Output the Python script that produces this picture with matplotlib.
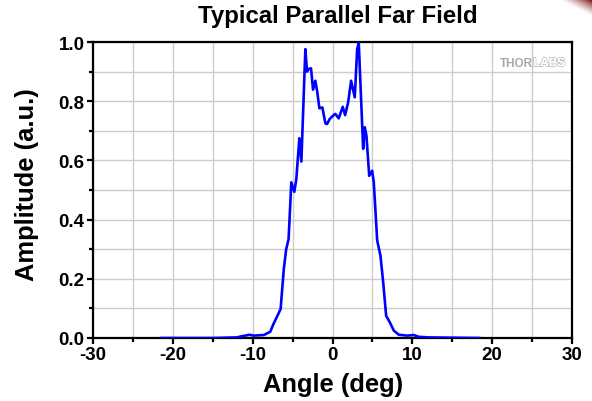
import matplotlib
matplotlib.use("Agg")
import matplotlib.pyplot as plt
import matplotlib.patheffects as pe
import numpy as np

plt.rcParams['font.family'] = ['Liberation Sans', 'DejaVu Sans']

angle = [-21.5, -15.0, -12.0, -11.5, -10.4, -9.9, -8.6, -7.8, -7.4, -6.9, -6.5,
         -6.1, -5.8, -5.5, -5.16, -4.78, -4.53, -4.44, -4.15, -3.9, -3.4, -3.19,
         -2.99, -2.69, -2.44, -2.15, -1.93, -1.64, -1.27, -0.89, -0.68, -0.35,
         0.15, 0.36, 0.78, 1.28, 1.58, 1.96, 2.33, 2.79, 3.09, 3.29, 3.84, 4.04,
         4.25, 4.6, 4.97, 5.17, 5.6, 6.01, 6.35, 6.72, 7.14, 7.68, 8.31, 9.36,
         10.2, 10.8, 12.0, 18.4]
amplitude = [0.0, 0.0, 0.002, 0.005, 0.011, 0.008, 0.010, 0.021, 0.047, 0.075, 0.098,
             0.233, 0.300, 0.334, 0.526, 0.494, 0.537, 0.571, 0.675, 0.596, 0.976, 0.900,
             0.909, 0.911, 0.839, 0.869, 0.835, 0.776, 0.779, 0.725, 0.723, 0.740,
             0.753, 0.757, 0.742, 0.781, 0.753, 0.796, 0.869, 0.813, 0.976, 0.997, 0.639, 0.712,
             0.684, 0.548, 0.565, 0.526, 0.329, 0.278, 0.188, 0.075, 0.055, 0.025, 0.011, 0.008,
             0.010, 0.004, 0.002, 0.0]

x_ticks = [-30, -20, -10, 0, 10, 20, 30]
y_ticks = [0.0, 0.2, 0.4, 0.6, 0.8, 1.0]

fig = plt.figure(figsize=(5.92, 4.02), dpi=100)
ax = fig.add_axes([93/592, (402-339)/402, (572-93)/592, (339-43)/402])

ax.plot(angle, amplitude, color='#0000FF', lw=1.9, zorder=3, solid_joinstyle='round')

ax.set_xlim(-30, 30)
ax.set_ylim(0, 1.0)
ax.set_xticks(x_ticks)
ax.set_xticklabels([str(t) for t in x_ticks])
ax.set_yticks(y_ticks)
ax.set_yticklabels([f"{t:.1f}" for t in y_ticks])
ax.set_xticks(np.arange(-25, 30, 10), minor=True)
ax.set_yticks(np.arange(0.1, 1.0, 0.2), minor=True)

ax.grid(True, which='both', color='#cccccc', lw=1.0, zorder=0)
ax.set_axisbelow(True)

for s in ax.spines.values():
    s.set_linewidth(1.6)
    s.set_color('black')

ax.tick_params(which='major', direction='out', length=4, width=1.6,
               labelsize=13.5, pad=2)
ax.tick_params(which='minor', direction='out', length=3, width=1.6)
for lab in ax.get_xticklabels() + ax.get_yticklabels():
    lab.set_fontweight('bold')

fig.text(338/592, 1 - 16/402, 'Typical Parallel Far Field', ha='center', va='center',
         fontsize=17.3, fontweight='bold')
fig.text(333/592, 1 - 385/402, 'Angle (deg)', ha='center', va='center',
         fontsize=18.4, fontweight='bold')
fig.text(27/592, 1 - 185/402, 'Amplitude (a.u.)', ha='center', va='center',
         rotation=90, fontsize=18.4, fontweight='bold')

# watermark logo
fig.text(533/592, 1 - 64/402, 'THOR', ha='right', va='center', fontsize=8.5,
         fontweight='bold', color='#a8a8a8')
fig.text(533/592, 1 - 64/402, 'LABS', ha='left', va='center', fontsize=8.5,
         fontweight='bold', color='white',
         path_effects=[pe.withStroke(linewidth=1.2, foreground='#bdbdbd'), pe.Normal()])

# corner decoration
cax = fig.add_axes([530/592, 1 - 40/402, 62/592, 40/402])
cax.set_axis_off()
yy, xx = np.mgrid[0:40, 0:62]
d = (61 - xx) * 0.6 + yy * 1.2
alpha = np.clip(1 - d / 20.0, 0, 1) ** 1.3
img = np.zeros((40, 62, 4))
img[..., 0] = 0.5
img[..., 1] = 0.05
img[..., 2] = 0.05
img[..., 3] = alpha
cax.imshow(img, aspect='auto', interpolation='bilinear')

fig.savefig('out.png', dpi=100)
